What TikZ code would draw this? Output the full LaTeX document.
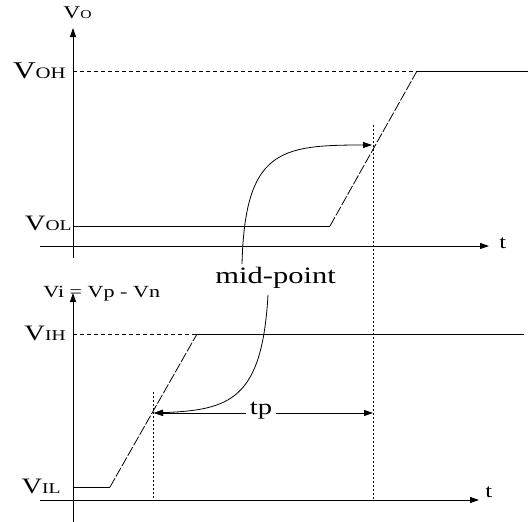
\documentclass[tikz,border=0pt]{standalone}
\usepackage{fontspec}
\setmainfont[FakeStretch=1.3]{Liberation Serif}
\usetikzlibrary{arrows.meta}
\newcommand{\fs}[1]{\fontsize{#1}{#1}\selectfont}
\begin{document}
\begin{tikzpicture}[x=1pt,y=-1pt,line width=0.8pt,
  axis/.style={-{Triangle[length=9pt,width=6pt]}},
  refline/.style={dash pattern=on 4pt off 3pt},
  ramp/.style={dash pattern=on 10pt off 2pt},
  guide/.style={dash pattern=on 2pt off 2pt},
  ptr/.style={-{Triangle[length=9pt,width=6pt]}},
  lvl/.style={inner sep=0pt,anchor=base east},
  lbl/.style={inner sep=0pt,anchor=base west}]
\useasboundingbox (0,0) rectangle (528,522);
% ---------------- top plot ----------------
\coordinate (yo0) at (73,258);
\coordinate (yo1) at (73,28);
\coordinate (to0) at (40,246);
\coordinate (to1) at (489,246);
\draw[axis] (yo0) -- (yo1);
\draw[axis] (to0) -- (to1);
\node[lbl] (vo) at (63,18) {\fs{18}V\fs{12}O};
\node[lbl] (tt) at (499,248) {\fs{19}t};
\coordinate (oh0) at (73,71);
\coordinate (oh1) at (417,71);
\coordinate (oh2) at (528,71);
\coordinate (ol0) at (73,226);
\coordinate (ol1) at (330,226);
\draw[refline] (oh0) -- (oh1);
\draw (oh1) -- (oh2);
\draw (ol0) -- (ol1);
\draw[ramp] (ol1) -- (oh1);
\node[lvl] (voh) at (66,78) {\fs{24}V\fs{16}OH};
\node[lvl] (vol) at (72,230) {\fs{22}V\fs{15}OL};
% ---------------- bottom plot ----------------
\coordinate (yi0) at (73,522);
\coordinate (yi1) at (73,293);
\coordinate (ti0) at (40,500);
\coordinate (ti1) at (479,500);
\draw[axis] (yi0) -- (yi1);
\draw[axis] (ti0) -- (ti1);
\node[lbl] (vi) at (43,297) {\fs{17}Vi = Vp - Vn};
\node[lbl] (tb) at (485,497) {\fs{19}t};
\coordinate (ih0) at (73,334);
\coordinate (ih1) at (197,334);
\coordinate (ih2) at (524,334);
\coordinate (il0) at (73,487);
\coordinate (il1) at (110,487);
\draw[refline] (ih0) -- (ih1);
\draw (ih1) -- (ih2);
\draw (il0) -- (il1);
\draw[ramp] (il1) -- (ih1);
\node[lvl] (vih) at (66,340) {\fs{22}V\fs{15}IH};
\node[lvl] (vil) at (61,493) {\fs{22}V\fs{15}IL};
% ---------------- guides ----------------
\coordinate (g10) at (373,125);
\coordinate (g11) at (373,500);
\coordinate (g20) at (153,392);
\coordinate (g21) at (153,500);
\draw[guide] (g10) -- (g11);
\draw[guide] (g20) -- (g21);
% ---------------- mid-point ----------------
\node[lbl] (mid) at (215,283) {\fs{23.5}mid-point};
\coordinate (mtop) at (242,264);
\coordinate (mbot) at (268,295);
\coordinate (po) at (372,145);
\coordinate (pi) at (154,413);
\draw[ptr] (mtop) .. controls (245,150) and (280,145) .. (po);
\draw[ptr] (mbot) .. controls (262,400) and (230,410) .. (pi);
% ---------------- tp ----------------
\node[inner sep=3pt] (tp) at (261,411) {\fs{22}tp};
\coordinate (tpr) at (373,413);
\draw[ptr] (tp.west |- pi) -- (pi);
\draw[ptr] (tp.east |- tpr) -- (tpr);
\end{tikzpicture}
\end{document}
